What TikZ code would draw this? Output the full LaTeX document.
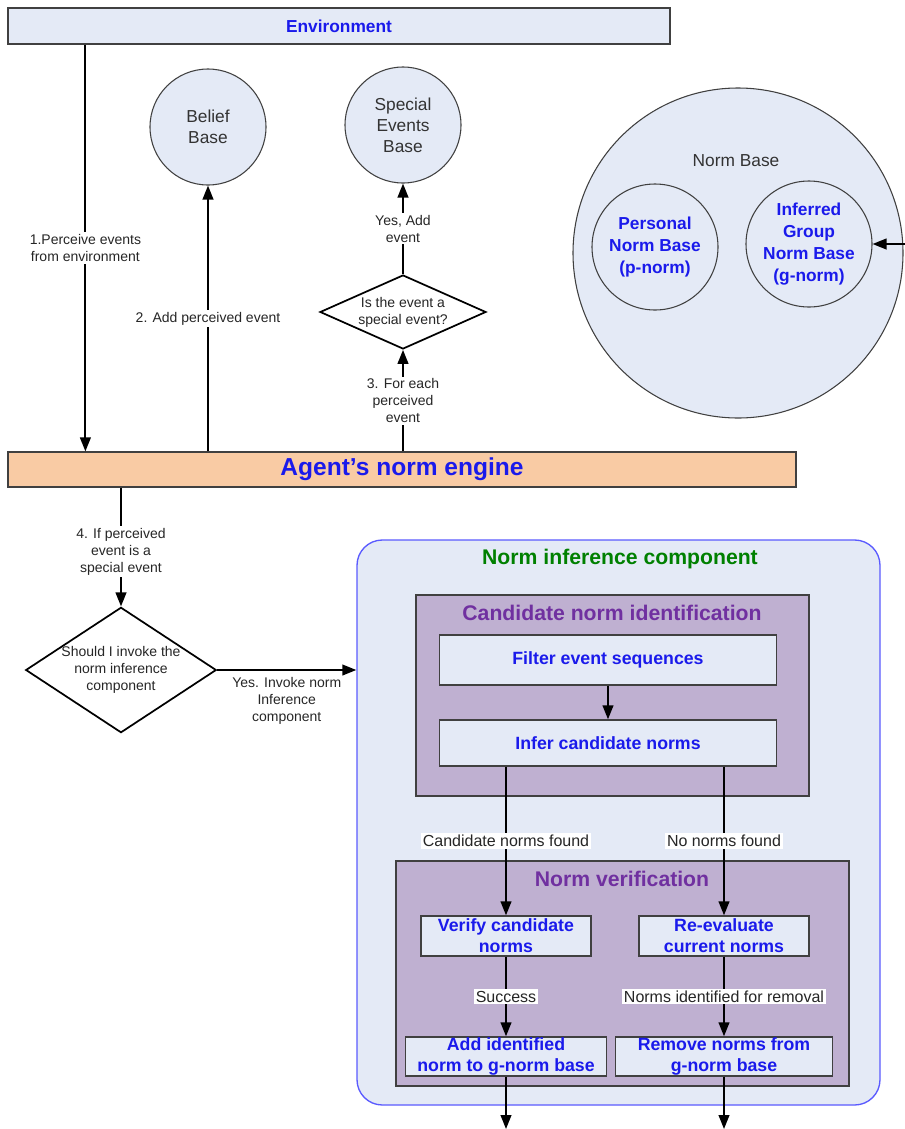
\documentclass[tikz,border=0pt]{standalone}
\usepackage{fontspec}
\setmainfont{Liberation Sans}
\usetikzlibrary{shapes.geometric,arrows.meta,positioning}

\definecolor{paleblue}{RGB}{228,234,246}
\definecolor{peach}{RGB}{249,203,164}
\definecolor{lilac}{RGB}{191,176,209}
\definecolor{plum}{RGB}{112,48,160}
\definecolor{inkblue}{RGB}{26,26,235}
\definecolor{leaf}{RGB}{0,128,0}
\definecolor{edgegray}{RGB}{64,64,64}
\definecolor{rimblue}{RGB}{90,90,255}

\begin{document}
\begin{tikzpicture}[x=0.75pt, y=-0.75pt,
    flow/.style={draw=black, line width=1.5pt, -{Triangle[length=10.5pt,width=8pt]}},
    lbl/.style={fill=white, inner sep=1.5pt, align=center, text=black!85,
        font=\fontsize{10.5}{12.75}\selectfont},
    innerlbl/.style={lbl, font=\fontsize{12}{14}\selectfont},
    bar/.style={draw=edgegray, line width=0.9pt, inner sep=0pt, text=inkblue},
    store/.style={circle, draw=edgegray, line width=0.8pt, fill=paleblue, inner sep=0pt,
        align=center, text=black!80, font=\fontsize{13}{15.75}\selectfont},
    normstore/.style={store, fill=none, text=inkblue,
        font=\fontsize{13}{16.5}\selectfont\bfseries},
    decide/.style={diamond, draw=black, line width=1.3pt, fill=white, inner sep=0pt,
        align=center, text=black!85, font=\fontsize{10.5}{12.75}\selectfont},
    group/.style={draw=edgegray, line width=1pt, fill=lilac, inner sep=0pt},
    stepbox/.style={draw=edgegray, line width=1pt, fill=paleblue, inner sep=0pt,
        align=center, text=inkblue, font=\fontsize{13.3}{15.75}\selectfont\bfseries},
    heading/.style={font=\fontsize{15.9}{18}\selectfont\bfseries, inner sep=0pt}
]
    \useasboundingbox (0,0) rectangle (905,1129);

    % Environment and engine bars
    \node[bar, fill=paleblue, minimum width=496.5pt, minimum height=27pt,
        font=\fontsize{13}{15}\selectfont\bfseries] (env) at (339,26) {Environment};
    \node[bar, fill=peach, minimum width=591pt, minimum height=26.25pt,
        font=\fontsize{18.4}{22}\selectfont\bfseries] (engine) at (402,469.5) {Agent’s norm engine};

    % Stores
    \node[store, minimum size=87pt] (belief) at (208,127) {Belief\\Base};
    \node[store, minimum size=87pt] (special) at (403,125) {Special\\Events\\Base};

    % Norm base
    \node[store, minimum size=247.5pt] (normbase) at (738,253) {};
    \node[text=black!80, font=\fontsize{13}{15}\selectfont] (normbasetitle) at (736,161) {Norm Base};
    \node[normstore, minimum size=94.5pt] (personal) at (655,247) {Personal\\Norm Base\\(p-norm)};
    \node[normstore, minimum size=94.5pt] (inferred) at (809,244) {Inferred\\Group\\Norm Base\\(g-norm)};
    \coordinate (gfeed) at (905,244);
    \draw[flow] (gfeed) -- (inferred.east);

    % Decisions
    \node[decide, shape aspect=2.24, minimum width=124.5pt, minimum height=55.5pt]
        (isspecial) at (403,312) {Is the event a\\special event?};
    \node[decide, shape aspect=1.52, minimum width=142.5pt, minimum height=93.75pt]
        (invoke) at (121,670) {Should I invoke the\\norm inference\\component};

    % Engine connectors
    \draw[flow] ([xshift=58.5pt]env.south west) -- node[lbl] (l1) {1.Perceive events\\from environment}
        ([xshift=58.5pt]engine.north west);
    \draw[flow] (belief |- engine.north) -- node[lbl] (l2) {2. Add perceived event} (belief.south);
    \draw[flow] (isspecial |- engine.north) -- node[lbl] (l3) {3. For each\\perceived\\event} (isspecial.south);
    \draw[flow] (isspecial.north) -- node[lbl] (lyes) {Yes, Add\\event} (special.south);
    \draw[flow] (invoke |- engine.south) -- node[lbl, pos=0.54] (l4) {4. If perceived\\event is a\\special event} (invoke.north);

    % Norm inference component
    \node[draw=rimblue, line width=1pt, fill=paleblue, rounded corners=19pt, inner sep=0pt,
        minimum width=392.25pt, minimum height=423.75pt] (nic) at (618.5,822.5) {};
    \node[heading, text=leaf] (nictitle) at (620,559) {Norm inference component};
    \draw[flow] (invoke.east) -- node[lbl, fill=none, below=3pt] (linvoke)
        {Yes. Invoke norm\\Inference\\component} (invoke.east -| nic.west);

    % Candidate norm identification
    \node[group, minimum width=294.75pt, minimum height=150.75pt] (candidate) at (612.5,695.5) {};
    \node[heading, text=plum] (candtitle) at (612,613) {Candidate norm identification};
    \node[stepbox, minimum width=252.75pt, minimum height=37.5pt] (filter) at (608,660) {Filter event sequences};
    \node[stepbox, minimum width=252.75pt, minimum height=34.5pt] (infer) at (608,743) {Infer candidate norms};
    \draw[flow] (filter.south) -- (infer.north);

    % Norm verification
    \node[group, minimum width=339.75pt, minimum height=168.75pt] (verification) at (622.5,973.5) {};
    \node[heading, text=plum] (veriftitle) at (622,879) {Norm verification};
    \node[stepbox, minimum width=127.5pt, minimum height=30pt] (verify) at (506,936) {Verify candidate\\norms};
    \node[stepbox, minimum width=127.5pt, minimum height=30pt] (reeval) at (724,936) {Re-evaluate\\current norms};
    \node[stepbox, minimum width=150.75pt, minimum height=29.25pt] (addnorm) at (506,1056.5) {Add identified\\norm to g-norm base};
    \node[stepbox, minimum width=162.75pt, minimum height=29.25pt] (remove) at (724,1056.5) {Remove norms from\\g-norm base};

    % Component connectors
    \draw[flow] (verify |- infer.south) -- node[innerlbl] (lfound) {Candidate norms found} (verify.north);
    \draw[flow] (reeval |- infer.south) -- node[innerlbl] (lnone) {No norms found} (reeval.north);
    \draw[flow] (verify.south) -- node[innerlbl] (lsuccess) {Success} (verify.south |- addnorm.north);
    \draw[flow] (reeval.south) -- node[innerlbl] (lremoval) {Norms identified for removal} (reeval.south |- remove.north);
    \coordinate (addend) at (506,1129);
    \coordinate (removeend) at (724,1129);
    \draw[flow] (addnorm.south) -- (addend);
    \draw[flow] (remove.south) -- (removeend);

\end{tikzpicture}
\end{document}
